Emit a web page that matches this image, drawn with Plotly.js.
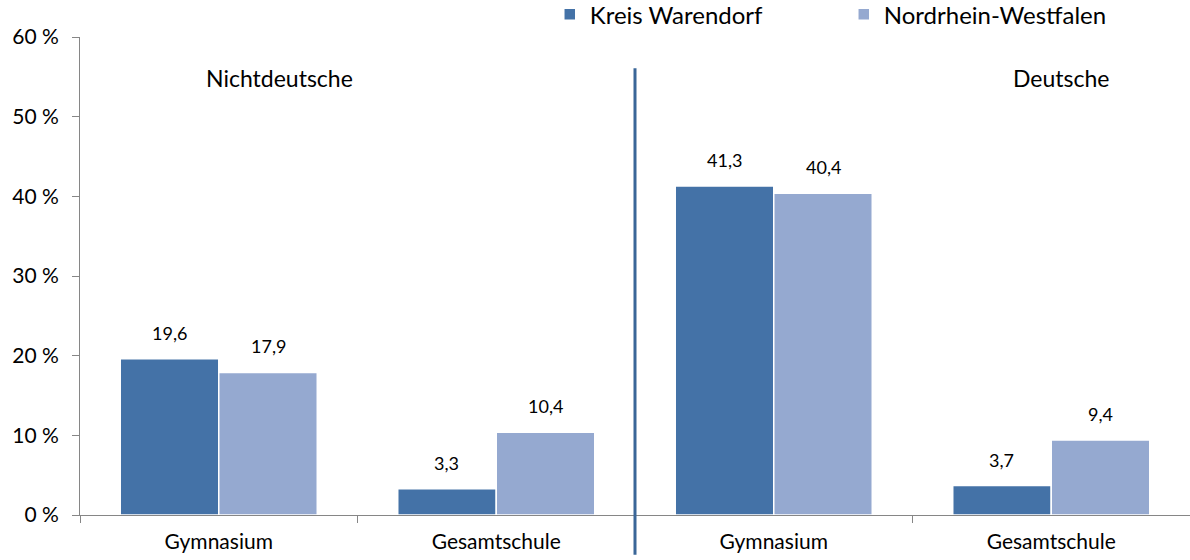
<!DOCTYPE html>
<html><head><meta charset="utf-8">
<script src="https://cdn.plot.ly/plotly-3.0.1.min.js"></script>
<style>html,body{margin:0;padding:0;background:#fff}#chart{width:1190px;height:560px}</style>
</head><body><div id="chart"></div>
<script>
const positions = [0, 1, 2, 3];
const tickLabels = ["Gymnasium", "Gesamtschule", "Gymnasium", "Gesamtschule"];
const seriesNames = ["Kreis Warendorf", "Nordrhein-Westfalen"];
const kreisWarendorf = [19.6, 3.3, 41.3, 3.7];
const nrw = [17.9, 10.4, 40.4, 9.4];
const yTickVals = [0, 10, 20, 30, 40, 50, 60];
const yTickText = ["0 %", "10 %", "20 %", "30 %", "40 %", "50 %", "60 %"];
const groupLabels = ["Nichtdeutsche", "Deutsche"];

const font = "Lato, 'Open Sans', sans-serif";
const colors = ["#4472A7", "#95A9D0"];
const bargap = 0.29;
const series = [kreisWarendorf, nrw];

const data = series.map((vals, i) => ({
  type: "bar", name: seriesNames[i], x: positions, y: vals,
  marker: {color: colors[i], line: {color: "#ffffff", width: 1.5}},
  hoverinfo: "skip"
}));
data.push({type: "scatter", x: [-0.5], y: [0], xaxis: "x2", mode: "markers",
  marker: {opacity: 0}, showlegend: false, hoverinfo: "skip"});

// value labels above bars
const w = (1 - bargap) / series.length;
const valueAnns = [];
series.forEach((vals, i) => vals.forEach((v, j) => valueAnns.push({
  text: v.toFixed(1).replace(".", ","), x: positions[j] + (i - (series.length - 1) / 2) * w,
  y: v, xref: "x", yref: "y", yanchor: "bottom", yshift: 13, showarrow: false,
  font: {family: font, size: 18, color: "#000"}
})));

const layout = {
  width: 1190, height: 560,
  margin: {l: 80, r: 0, t: 35, b: 45},
  paper_bgcolor: "#fff", plot_bgcolor: "#fff",
  font: {family: font, color: "#000"},
  barmode: "group", bargap: bargap, bargroupgap: 0,
  showlegend: true,
  legend: {orientation: "h", xref: "container", yref: "container", x: 0.462, xanchor: "left",
    y: 0.974, yanchor: "middle", font: {family: font, size: 24}, entrywidth: 249,
    entrywidthmode: "pixels", itemclick: false, bgcolor: "rgba(0,0,0,0)"},
  xaxis: {range: [-0.5, 3.5], tickvals: positions, ticktext: tickLabels, ticks: "",
    ticklabelstandoff: 8, showgrid: false, zeroline: false, showline: true,
    linecolor: "#868686", linewidth: 1, tickfont: {family: font, size: 21}, fixedrange: true},
  xaxis2: {overlaying: "x", range: [-0.5, 3.5], tickvals: [-0.5, 0.5, 1.5, 2.5, 3.5],
    showticklabels: false, ticks: "outside", ticklen: 7, tickcolor: "#868686",
    showgrid: false, zeroline: false, showline: false, side: "bottom", anchor: "y"},
  yaxis: {range: [0, 60], tickvals: yTickVals, ticktext: yTickText,
    ticks: "outside", ticklen: 7, tickcolor: "#868686", ticklabelstandoff: 9,
    showgrid: false, zeroline: false, showline: true, linecolor: "#868686", linewidth: 1,
    tickfont: {family: font, size: 21}, fixedrange: true},
  shapes: [{type: "line", xref: "x", yref: "paper", x0: 1.5, x1: 1.5, y0: -0.083, y1: 0.935,
    line: {color: "#3A6698", width: 3}}],
  annotations: valueAnns.concat([
    {text: groupLabels[0], xref: "paper", yref: "paper", x: 0.18, y: 0.915, xanchor: "center",
      yanchor: "middle", showarrow: false, font: {family: font, size: 23}},
    {text: groupLabels[1], xref: "paper", yref: "paper", x: 0.884, y: 0.915, xanchor: "center",
      yanchor: "middle", showarrow: false, font: {family: font, size: 23}}
  ])
};
Plotly.newPlot("chart", data, layout, {staticPlot: true, displayModeBar: false});
</script></body></html>
